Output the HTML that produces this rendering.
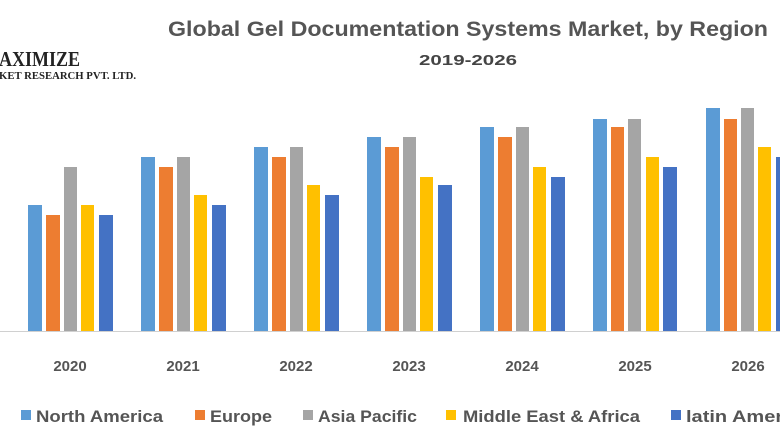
<!DOCTYPE html>
<html><head><meta charset="utf-8"><style>
body{margin:0;background:#fff;}
svg{display:block;font-family:"Liberation Sans",sans-serif;}
</style></head><body>
<svg width="780" height="440" viewBox="0 0 780 440">
<text x="168" y="36" textLength="600" lengthAdjust="spacingAndGlyphs" font-size="21" font-weight="bold" fill="#555">Global Gel Documentation Systems Market, by Region</text>
<text x="419" y="65" textLength="98" lengthAdjust="spacingAndGlyphs" font-size="15" font-weight="bold" fill="#444">2019-2026</text>
<text x="-1" y="66" textLength="81" lengthAdjust="spacingAndGlyphs" font-family="Liberation Serif,serif" font-size="21" font-weight="bold" fill="#222">AXIMIZE</text>
<text x="-1" y="79" textLength="137" lengthAdjust="spacingAndGlyphs" font-family="Liberation Serif,serif" font-size="11" font-weight="bold" fill="#222">KET RESEARCH PVT. LTD.</text>
<line x1="0" y1="331.5" x2="780" y2="331.5" stroke="#d0d0d0" stroke-width="1"/>
<g>
<rect x="28" y="205" width="14" height="126" fill="#5b9bd5"/><rect x="46" y="215" width="14" height="116" fill="#ed7d31"/><rect x="64" y="167" width="13" height="164" fill="#a5a5a5"/><rect x="81" y="205" width="13" height="126" fill="#ffc000"/><rect x="99" y="215" width="14" height="116" fill="#4472c4"/>
<rect x="141" y="157" width="14" height="174" fill="#5b9bd5"/><rect x="159" y="167" width="14" height="164" fill="#ed7d31"/><rect x="177" y="157" width="13" height="174" fill="#a5a5a5"/><rect x="194" y="195" width="13" height="136" fill="#ffc000"/><rect x="212" y="205" width="14" height="126" fill="#4472c4"/>
<rect x="254" y="147" width="14" height="184" fill="#5b9bd5"/><rect x="272" y="157" width="14" height="174" fill="#ed7d31"/><rect x="290" y="147" width="13" height="184" fill="#a5a5a5"/><rect x="307" y="185" width="13" height="146" fill="#ffc000"/><rect x="325" y="195" width="14" height="136" fill="#4472c4"/>
<rect x="367" y="137" width="14" height="194" fill="#5b9bd5"/><rect x="385" y="147" width="14" height="184" fill="#ed7d31"/><rect x="403" y="137" width="13" height="194" fill="#a5a5a5"/><rect x="420" y="177" width="13" height="154" fill="#ffc000"/><rect x="438" y="185" width="14" height="146" fill="#4472c4"/>
<rect x="480" y="127" width="14" height="204" fill="#5b9bd5"/><rect x="498" y="137" width="14" height="194" fill="#ed7d31"/><rect x="516" y="127" width="13" height="204" fill="#a5a5a5"/><rect x="533" y="167" width="13" height="164" fill="#ffc000"/><rect x="551" y="177" width="14" height="154" fill="#4472c4"/>
<rect x="593" y="119" width="14" height="212" fill="#5b9bd5"/><rect x="611" y="127" width="13" height="204" fill="#ed7d31"/><rect x="628" y="119" width="13" height="212" fill="#a5a5a5"/><rect x="646" y="157" width="13" height="174" fill="#ffc000"/><rect x="663" y="167" width="14" height="164" fill="#4472c4"/>
<rect x="706" y="108" width="14" height="223" fill="#5b9bd5"/><rect x="724" y="119" width="13" height="212" fill="#ed7d31"/><rect x="741" y="108" width="13" height="223" fill="#a5a5a5"/><rect x="758" y="147" width="13" height="184" fill="#ffc000"/><rect x="776" y="157" width="14" height="174" fill="#4472c4"/>
</g>
<g font-size="15" font-weight="bold" fill="#555" text-anchor="middle">
<text x="70" y="371">2020</text><text x="183" y="371">2021</text><text x="296" y="371">2022</text><text x="409" y="371">2023</text><text x="522" y="371">2024</text><text x="635" y="371">2025</text><text x="748" y="371">2026</text>
</g>
<g font-size="17" font-weight="bold" fill="#555" lengthAdjust="spacingAndGlyphs">
<rect x="21" y="410" width="10" height="10" fill="#5b9bd5"/><text x="36" y="422" textLength="127" lengthAdjust="spacingAndGlyphs">North America</text>
<rect x="195" y="410" width="10" height="10" fill="#ed7d31"/><text x="210" y="422" textLength="62" lengthAdjust="spacingAndGlyphs">Europe</text>
<rect x="303" y="410" width="10" height="10" fill="#a5a5a5"/><text x="318" y="422" textLength="99" lengthAdjust="spacingAndGlyphs">Asia Pacific</text>
<rect x="446" y="410" width="10" height="10" fill="#ffc000"/><text x="463" y="422" textLength="177" lengthAdjust="spacingAndGlyphs">Middle East &amp; Africa</text>
<rect x="671" y="410" width="10" height="10" fill="#4472c4"/><text x="686" y="422" textLength="125" lengthAdjust="spacingAndGlyphs">latin  America</text>
</g>
</svg>
</body></html>
